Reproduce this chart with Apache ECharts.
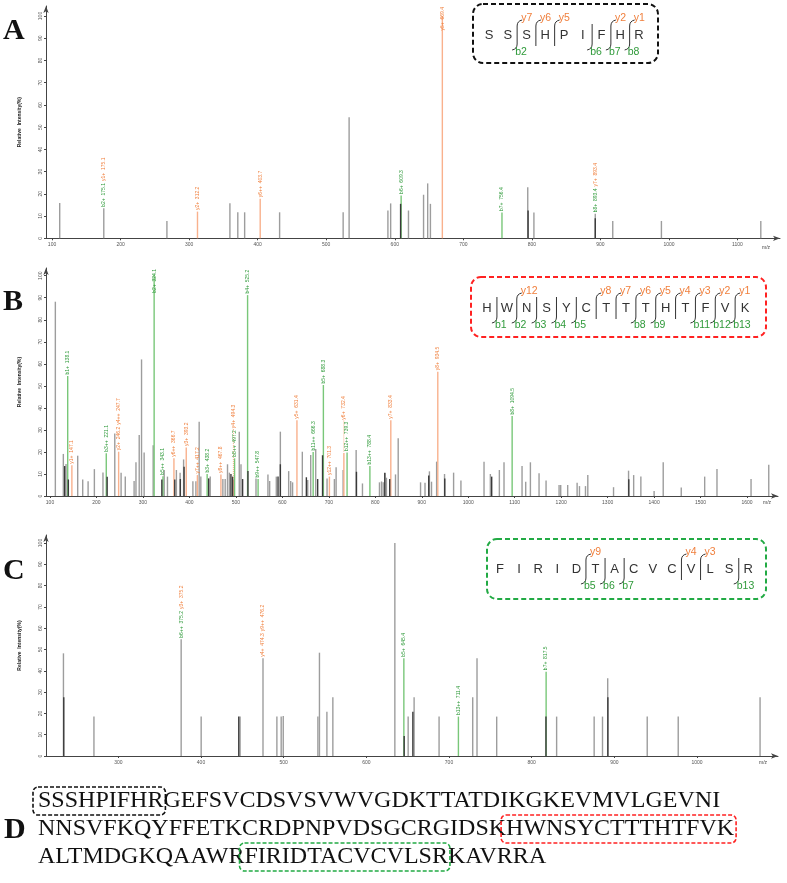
<!DOCTYPE html>
<html><head><meta charset="utf-8">
<script src="https://cdn.jsdelivr.net/npm/echarts@6/dist/echarts.min.js"></script>
<style>html,body{margin:0;padding:0;background:#fff}#c{width:787px;height:883px}</style>
</head><body><div id="c"></div>
<script>
// ---------------- DATA ----------------
// Panel A  (SSSHPIFHR)
const A_gray_mz  = [111.2,175.5,267.6,359.5,371,381,432,524.7,533.4,590,594,620,642,648,652,794,803,892.5,918,989,1134];
const A_gray_int = [15.9,13.5,7.8,15.8,11.7,11.7,11.7,11.7,54.5,12.5,15.7,12.5,19.6,24.7,15.5,23,11.6,11,7.8,7.8,7.8];
const A_dark_mz  = [608.5,794.5,892.5];
const A_dark_int = [15.5,12.5,9];
const A_b_mz  = [609.3,756.4];
const A_b_int = [19.3,11.6];
const A_y_mz  = [312.2,403.7,669.4];
const A_y_int = [12,17.8,100];
const A_lab_mz   = [175.1,175.1,312.2,403.7,609.3,669.4,756.4,893.4,893.4];
const A_lab_kind = ['b','y','y','y','b','y','b','b','y'];
const A_lab_text = ['b2+  175.1','y1+  175.1','y2+  312.2','y6++  403.7','b6+  609.3','y5+  669.4','b7+  756.4','b8+  893.4','y7+  893.4'];
const A_seq = 'SSSHPIFHR';
const A_b_ions = [2,6,7,8];
const A_y_ions = [7,6,5,2,1];

// Panel B  (HWNSYCTTTHTFVK)
const B_gray_mz  = [111.5,128.7,134.5,159.6,170.4,182,195.5,214,239.4,253,262,281,285,292,297,302.6,322,345.7,352.8,372,380,387.5,407.5,414,421,424.6,444.8,472,477,482,486,507.3,511,543.3,569,572.7,587,595.7,613.6,618,622,643,654.6,661,671.8,696.2,712,715.7,730.8,758.8,772.4,809,813.4,817,820.5,824,843.5,849.3,897.4,907,916.5,921,932,949,968.5,984.3,1034,1047.6,1067,1077,1115.8,1123.7,1133.8,1152.4,1167.5,1195.5,1199,1214,1234.3,1239.4,1252.3,1257.3,1312.7,1345,1356,1371.5,1400,1419.6,1458.4,1508.8,1535.3,1608.6,1646.7];
const B_gray_int = [88.2,19.1,14.5,18.3,7.5,6.7,12.2,10.7,28.4,10.6,8.8,6.8,15.3,27.7,62,19.8,23,11.8,8.8,11.8,10.6,16.6,6.7,6.7,33.7,8.8,8.8,7.7,7.7,14.4,10.6,29.2,14.4,8,9.8,6.8,8.8,29.2,11.3,6.8,6.2,20.1,7.3,18.6,21.3,8,7.7,13,11.8,20.9,5.7,6.2,6.6,6.2,10.4,8.3,9.8,26.2,6.2,6,11.2,6.5,15.6,10,10.6,7,15.6,10,11.8,15.3,13.6,6.5,15.3,10.3,7,5,5,5,6,4.5,4.5,9.5,4,11.5,9.5,8.8,2.3,15.3,3.9,8.8,12.2,7.7,14.2];
const B_dark_mz  = [131.6,139.5,223,340.7,368.5,380.5,388.5,441.5,489.4,493,514.5,526,590.7,595.7,651.7,676,686.5,759.5,820.5,831,915,949.5,1050.5,1345.5];
const B_dark_int = [13.6,7.5,8.7,7.5,7.5,7.7,13.3,8,10,8.8,7.7,11.3,8.8,14.4,8.5,7.7,18.5,11,10.6,7.7,9.3,8,8.8,7.6];
const B_b_mz  = [138.1,221.1,324.1,343.1,438.2,497.2,525.2,547.8,666.3,688.3,739.3,788.4,1094.5];
const B_b_int = [54.5,19.4,100.5,9,10,17.1,91.2,7.7,20,50.4,19.7,13.6,36.3];
const B_y_mz  = [147.1,247.7,366.7,393.2,417.2,467.8,494.3,631.4,701.3,732.4,833.4,934.5];
const B_y_int = [14,20.1,17.1,22,9.5,9.8,7.5,34.4,8.8,19.5,34.4,56.4];
const B_lab_mz   = [138.1,147.1,221.1,246.2,247.7,324.1,343.1,366.7,393.2,417.2,438.2,467.8,494.3,497.2,525.2,547.8,631.4,666.3,688.3,701.3,732.4,739.3,788.4,833.4,934.5,1094.5];
const B_lab_kind = ['b','y','b','y','y','b','b','y','y','y','b','y','y','b','b','b','y','b','b','y','y','b','b','y','y','b'];
const B_lab_text = ['b1+  138.1','y1+  147.1','b3++  221.1','y2+  246.2','y4++  247.7','b2+  324.1','b5++  343.1','y6++  366.7','y3+  393.2','y7++  417.2','b3+  438.2','y8++  467.8','y4+  494.3','b8++  497.2','b4+  525.2','b9++  547.8','y5+  631.4','b11++  666.3','b5+  688.3','y12++  701.3','y6+  732.4','b12++  739.3','b13++  788.4','y7+  833.4','y8+  934.5','b8+  1094.5'];
const B_seq = 'HWNSYCTTTHTFVK';
const B_b_ions = [1,2,3,4,5,8,9,11,12,13];
const B_y_ions = [12,8,7,6,5,4,3,2,1];

// Panel C  (FIRIDTACVCVLSR)
const C_gray_mz  = [233.6,270.5,376,400.2,447.3,475,491.8,497,499.5,541.4,543.3,552.3,559.5,634.5,650.6,657.8,688,728.7,733.9,757.7,830.2,875.6,885.7,892,939.8,977.3,1076.3];
const C_gray_int = [48.2,18.5,54.8,18.5,18.5,45.9,18.5,18.5,18.8,18.5,48.5,20.8,27.6,100,18.5,27.6,18.5,27.6,45.9,18.5,18.5,18.5,18.5,36.5,18.5,18.5,27.6];
const C_dark_mz  = [234,445.7,645.8,656.3,817.3,892.2];
const C_dark_int = [27.6,18.5,9.4,20.8,18.5,27.6];
const C_b_mz  = [645.4,711.4,817.5];
const C_b_int = [45.9,18.5,39.6];
const C_y_mz  = [];
const C_y_int = [];
const C_lab_mz   = [375.2,375.2,474.3,476.2,645.4,711.4,817.5];
const C_lab_kind = ['b','y','y','y','b','b','b'];
const C_lab_text = ['b6++  375.2','y3+  375.2','y4+  474.3','y9++  476.2','b5+  645.4','b13++  711.4','b7+  817.5'];
const C_seq = 'FIRIDTACVCVLSR';
const C_b_ions = [5,6,7,13];
const C_y_ions = [9,4,3];

// Axis ticks
const A_xticks = [100,200,300,400,500,600,700,800,900,1000,1100];
const B_xticks = [100,200,300,400,500,600,700,800,900,1000,1100,1200,1300,1400,1500,1600];
const C_xticks = [300,400,500,600,700,800,900,1000];
const Y_ticks  = [0,10,20,30,40,50,60,70,80,90,100];

// Panel D sequence
const D_lines = ['SSSHPIFHRGEFSVCDSVSVWVGDKTTATDIKGKEVMVLGEVNI','NNSVFKQYFFETKCRDPNPVDSGCRGIDSKHWNSYCTTTHTFVK','ALTMDGKQAAWRFIRIDTACVCVLSRKAVRRA'];
const D_marks = ['SSSHPIFHR','HWNSYCTTTHTFVK','FIRIDTACVCVLSR'];

// ---------------- STYLE / LAYOUT ----------------
const COL = {gray:'#9d9d9d', dark:'#3a3a3a', bLine:'#79c779', yLine:'#f9b18d', bText:'#2f9a3a', yText:'#f07f3c', axis:'#444'};
const LFS = 5;
const LFONT = LFS + 'px "Liberation Sans", Arial, sans-serif';
const grids = [
  {left:46, top:6,   width:734, height:232.3, xmin:91.2, xmax:1162,  ymax:104.5},
  {left:46, top:268, width:732, height:228,   xmin:91.4, xmax:1666.6,ymax:103.5},
  {left:46, top:535, width:732, height:221,   xmin:212.5,xmax:1098,  ymax:103.75}
];
const mctx = document.createElement('canvas').getContext('2d');
function textW(t, font){ mctx.font = font; return mctx.measureText(t).width; }
function zip(a,b){ return a.map((v,i)=>[v,b[i]]); }

function peakSeries(gi, mz, it, color, z){
  return {type:'custom', xAxisIndex:gi, yAxisIndex:gi, data:zip(mz,it), silent:true, z:z, animation:false,
    renderItem:function(params, api){
      const x = api.value(0), y = api.value(1);
      const p0 = api.coord([x,0]), p1 = api.coord([x,y]);
      return {type:'line', shape:{x1:p0[0],y1:p0[1],x2:p1[0],y2:p1[1]}, style:{stroke:color, lineWidth:1.4}};
    }};
}

function findBase(m, kind, P){
  function near(list){ let best=null; list.forEach(p=>{ const d=Math.abs(p[0]-m); if(d<=3 && (!best || d<best.d)) best={d, mz:p[0], int:p[1]}; }); return best; }
  return near(kind==='b'?P.b:P.y) || near(P.all) || {mz:m, int:0};
}

function labelSeries(gi, labMz, labKind, labText, P){
  const data = labMz.map((m,i)=>{ const b = findBase(m, labKind[i], P); return [b.mz, b.int, i]; });
  const ymax = grids[gi].ymax;
  return {type:'custom', xAxisIndex:gi, yAxisIndex:gi, data:data, silent:true, z:20, animation:false,
    renderItem:function(params, api){
      const items = data.map(d=>{ const p = api.coord([d[0], d[1]]); return {i:d[2], x:p[0], y0:p[1]-1.5, w:textW(labText[d[2]], LFONT), h:LFS+0.6, mz:d[0], int:d[1]}; });
      const top = api.coord([data[0][0], ymax])[1];
      const order = items.slice().sort((a,b)=> (b.int-a.int) || (a.i-b.i));
      const placed = [];
      order.forEach(it=>{
        let bottom = it.y0, blocker = null, moved = true, guard = 0;
        while(moved && guard++ < 50){
          moved = false;
          placed.forEach(p=>{
            if (Math.abs(p.x-it.x) < (p.h+it.h)/2 && bottom > p.bottom - p.w - 1 && bottom - it.w < p.bottom + 1){
              bottom = p.bottom - p.w - 2; blocker = p; moved = true;
            }
          });
        }
        if (bottom - it.w < top + 1) bottom = top + 1 + it.w;
        it.bottom = bottom; it.blocker = blocker; placed.push(it);
      });
      const me = items.find(t=>t.i===data[params.dataIndex][2]);
      const color = labKind[me.i]==='b' ? COL.bText : COL.yText;
      const children = [{type:'text', x:me.x, y:me.bottom, rotation:Math.PI/2,
        style:{text:labText[me.i], font:LFONT, fill:color, align:'left', verticalAlign:'middle'}}];
      if (me.blocker && me.blocker.mz !== me.mz && me.bottom < me.y0 - 3){
        children.push({type:'line', shape:{x1:me.x,y1:me.y0,x2:me.x,y2:me.bottom+0.5}, style:{stroke:color, lineWidth:0.6, lineDash:[1,1]}});
      }
      return {type:'group', children:children};
    }};
}

function panelSeries(gi, d){
  const P = {b:zip(d.bm,d.bi), y:zip(d.ym,d.yi), all:zip(d.gm,d.gi).concat(zip(d.dm,d.di))};
  return [
    peakSeries(gi, d.gm, d.gi, COL.gray, 2),
    peakSeries(gi, d.bm, d.bi, COL.bLine, 3),
    peakSeries(gi, d.ym, d.yi, COL.yLine, 3),
    peakSeries(gi, d.dm, d.di, COL.dark, 4),
    labelSeries(gi, d.lm, d.lk, d.lt, P)
  ];
}

function seqGraphics(seq, bIons, yIons, cfg){
  const els = [];
  els.push({type:'rect', shape:{x:cfg.box[0], y:cfg.box[1], width:cfg.box[2], height:cfg.box[3], r:10},
    style:{fill:'none', stroke:cfg.color, lineWidth:2, lineDash:[5,3]}});
  const n = seq.length;
  for (let i=0;i<n;i++){
    els.push({type:'text', x:cfg.x0 + i*cfg.dx, y:cfg.cy, style:{text:seq[i], font:'13px "Liberation Sans", Arial', fill:'#333', align:'center', verticalAlign:'middle'}});
  }
  const ls = {stroke:'#333', lineWidth:1, fill:'none'};
  for (let k=1;k<n;k++){
    const hasB = bIons.indexOf(k) >= 0, hasY = yIons.indexOf(n-k) >= 0;
    if (!hasB && !hasY) continue;
    const xc = cfg.x0 + (k-0.5)*cfg.dx;
    const t = cfg.cy - 11, b = cfg.cy + 11;
    const yTop = hasY ? t+2 : t, yBot = hasB ? b-2 : b;
    els.push({type:'line', shape:{x1:xc, y1:yTop, x2:xc, y2:yBot}, style:ls});
    if (hasY) els.push({type:'bezierCurve', shape:{x1:xc, y1:t+2, x2:xc+5, y2:t-4, cpx1:xc, cpy1:t-3}, style:ls});
    if (hasB) els.push({type:'bezierCurve', shape:{x1:xc, y1:b-2, x2:xc-5, y2:b+4, cpx1:xc, cpy1:b+3}, style:ls});
    if (hasY) els.push({type:'text', x:xc+4, y:cfg.cy-17, style:{text:'y'+(n-k), font:'10.5px "Liberation Sans", Arial', fill:COL.yText, align:'left', verticalAlign:'middle'}});
    if (hasB) els.push({type:'text', x:xc-2, y:cfg.cy+17, style:{text:'b'+k, font:'10.5px "Liberation Sans", Arial', fill:COL.bText, align:'left', verticalAlign:'middle'}});
  }
  return els;
}

function dGraphics(){
  const els = [];
  const font = '24px "Liberation Serif", "Times New Roman", serif';
  const x0 = 38, cys = [801, 829, 857];
  const colors = ['#111', '#ff2222', '#22aa44'];
  D_lines.forEach((line, li)=>{
    els.push({type:'text', x:x0, y:cys[li], style:{text:line, font:font, fill:'#111', align:'left', verticalAlign:'middle'}});
    const start = line.indexOf(D_marks[li]);
    const xs = x0 + textW(line.slice(0,start), font) - 5;
    const w = textW(D_marks[li], font) + 7;
    els.push({type:'rect', shape:{x:xs, y:cys[li]-14, width:w, height:28, r:5}, style:{fill:'none', stroke:colors[li], lineWidth:1.6, lineDash:[4,2]}});
  });
  return els;
}

function axes(gi, ticks){
  const g = grids[gi];
  const xa = {gridIndex:gi, type:'value', min:g.xmin, max:g.xmax,
    axisLine:{show:true, onZero:false, lineStyle:{color:COL.axis, width:1}, symbol:['none','arrow'], symbolSize:[4,7]},
    axisTick:{show:true, length:2, customValues:ticks, lineStyle:{color:COL.axis}},
    axisLabel:{customValues:ticks, fontSize:5, color:'#555', margin:4, fontFamily:'Liberation Sans', formatter:v=>String(v)},
    splitLine:{show:false}};
  const ya = {gridIndex:gi, type:'value', min:0, max:g.ymax,
    name:'Relative  Intensity(%)', nameLocation:'middle', nameGap:24,
    nameTextStyle:{fontSize:5, fontWeight:'bold', color:'#222', fontFamily:'Liberation Sans'},
    axisLine:{show:true, lineStyle:{color:COL.axis, width:1}, symbol:['none','arrow'], symbolSize:[4,7]},
    axisTick:{show:true, length:2, customValues:Y_ticks, lineStyle:{color:COL.axis}},
    axisLabel:{customValues:Y_ticks, fontSize:5, color:'#555', margin:3, rotate:90, fontFamily:'Liberation Sans', formatter:v=>String(v)},
    splitLine:{show:false}};
  return [xa, ya];
}

const chart = echarts.init(document.getElementById('c'), null, {renderer:'canvas'});
const ax = [axes(0,A_xticks), axes(1,B_xticks), axes(2,C_xticks)];

const letterStyle = {font:'bold 30px "Liberation Serif", "Times New Roman", serif', fill:'#111', align:'left', verticalAlign:'middle'};
const graphics = [].concat(
  [{type:'text', x:3, y:31, style:Object.assign({text:'A'}, letterStyle)},
   {type:'text', x:3, y:302, style:Object.assign({text:'B'}, letterStyle)},
   {type:'text', x:3, y:571, style:Object.assign({text:'C'}, letterStyle)},
   {type:'text', x:4, y:830, style:Object.assign({text:'D'}, letterStyle)},
   {type:'text', x:766, y:248, style:{text:'m/z', font:'5px "Liberation Sans"', fill:'#444', align:'center', verticalAlign:'middle'}},
   {type:'text', x:767, y:503, style:{text:'m/z', font:'5px "Liberation Sans"', fill:'#444', align:'center', verticalAlign:'middle'}},
   {type:'text', x:763, y:763, style:{text:'m/z', font:'5px "Liberation Sans"', fill:'#444', align:'center', verticalAlign:'middle'}}],
  seqGraphics(A_seq, A_b_ions, A_y_ions, {x0:489, dx:18.75, cy:35, box:[473,4,185,59], color:'#111'}),
  seqGraphics(B_seq, B_b_ions, B_y_ions, {x0:487, dx:19.85, cy:308, box:[471,277,295,60], color:'#ff2222'}),
  seqGraphics(C_seq, C_b_ions, C_y_ions, {x0:500, dx:19.1, cy:569, box:[487,539,279,60], color:'#22aa44'}),
  dGraphics()
);

chart.setOption({
  animation:false,
  backgroundColor:'#fff',
  grid: grids.map(g=>({left:g.left, top:g.top, width:g.width, height:g.height, containLabel:false})),
  xAxis: ax.map(a=>a[0]),
  yAxis: ax.map(a=>a[1]),
  series: [].concat(
    panelSeries(0, {gm:A_gray_mz, gi:A_gray_int, dm:A_dark_mz, di:A_dark_int, bm:A_b_mz, bi:A_b_int, ym:A_y_mz, yi:A_y_int, lm:A_lab_mz, lk:A_lab_kind, lt:A_lab_text}),
    panelSeries(1, {gm:B_gray_mz, gi:B_gray_int, dm:B_dark_mz, di:B_dark_int, bm:B_b_mz, bi:B_b_int, ym:B_y_mz, yi:B_y_int, lm:B_lab_mz, lk:B_lab_kind, lt:B_lab_text}),
    panelSeries(2, {gm:C_gray_mz, gi:C_gray_int, dm:C_dark_mz, di:C_dark_int, bm:C_b_mz, bi:C_b_int, ym:C_y_mz, yi:C_y_int, lm:C_lab_mz, lk:C_lab_kind, lt:C_lab_text})
  ),
  graphic: graphics
});
</script></body></html>
